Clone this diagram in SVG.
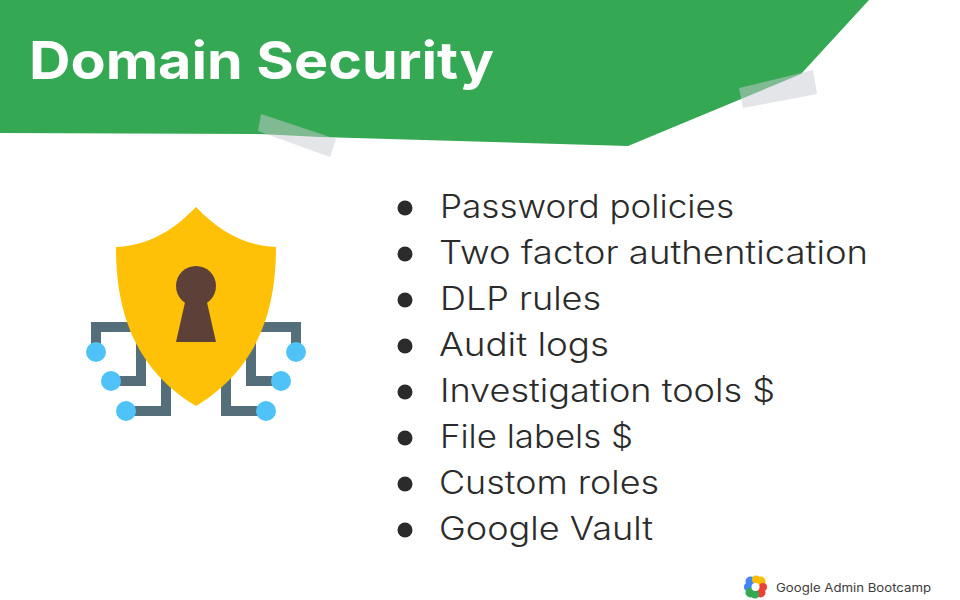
<svg xmlns="http://www.w3.org/2000/svg" width="960" height="600" viewBox="0 0 960 600">
<style>
text{font-family:"Inter","Open Sans","Liberation Sans",sans-serif}
.item{font-size:32px;fill:#2b2b2b;font-weight:300}
.bullet{fill:#2b2b2b}
.tape{fill:#c9ccd3;fill-opacity:.5}
.wire{fill:none;stroke:#546e7a;stroke-width:10}
.dot{fill:#4fc3f7}
</style>
<rect width="960" height="600" fill="#fff"/>
<g id="banner">
<polygon points="0,0 869,0 801,74 628,146 320,137 260,134 0,133" fill="#34a853"/>
<polygon class="tape" points="261,114 336,139 330,157 258,131"/>
<polygon class="tape" points="739,88 813,70 817,94 743,108"/>
<text x="29" y="79" font-size="52" font-weight="700" fill="#fff" textLength="465" lengthAdjust="spacingAndGlyphs">Domain Security</text>
</g>
<g id="shield-icon">
<g id="connectors">
<path class="wire" d="M96,352V327H135"/>
<path class="wire" d="M111,381H141V340"/>
<path class="wire" d="M126,411H166V375"/>
<path class="wire" d="M296,352V327H257"/>
<path class="wire" d="M281,381H251V340"/>
<path class="wire" d="M266,411H226V375"/>
</g>
<circle class="dot" cx="96" cy="352" r="10"/>
<circle class="dot" cx="111" cy="381" r="10"/>
<circle class="dot" cx="126" cy="411" r="10"/>
<circle class="dot" cx="296" cy="352" r="10"/>
<circle class="dot" cx="281" cy="381" r="10"/>
<circle class="dot" cx="266" cy="411" r="10"/>
<path d="M196,207C172,232 146,246 116,247C116,300 128,365 196,406C264,365 276,300 276,247C246,246 220,232 196,207Z" fill="#ffc107"/>
<circle cx="196" cy="286" r="20" fill="#5d4037"/>
<polygon points="186,298 206,298 216,342 176,342" fill="#5d4037"/>
</g>
<g id="list">
<g id="item-1"><circle class="bullet" cx="405" cy="208" r="7.5"/><text class="item" x="440" y="218" textLength="294" lengthAdjust="spacingAndGlyphs">Password policies</text></g>
<g id="item-2"><circle class="bullet" cx="405" cy="254" r="7.5"/><text class="item" x="439" y="264" textLength="429" lengthAdjust="spacingAndGlyphs">Two factor authentication</text></g>
<g id="item-3"><circle class="bullet" cx="405" cy="300" r="7.5"/><text class="item" x="440" y="310" textLength="161" lengthAdjust="spacingAndGlyphs">DLP rules</text></g>
<g id="item-4"><circle class="bullet" cx="405" cy="346" r="7.5"/><text class="item" x="439" y="356" textLength="170" lengthAdjust="spacingAndGlyphs">Audit logs</text></g>
<g id="item-5"><circle class="bullet" cx="405" cy="392" r="7.5"/><text class="item" x="440" y="402" textLength="335" lengthAdjust="spacingAndGlyphs">Investigation tools $</text></g>
<g id="item-6"><circle class="bullet" cx="405" cy="438" r="7.5"/><text class="item" x="440" y="448" textLength="193" lengthAdjust="spacingAndGlyphs">File labels $</text></g>
<g id="item-7"><circle class="bullet" cx="405" cy="484" r="7.5"/><text class="item" x="439" y="494" textLength="220" lengthAdjust="spacingAndGlyphs">Custom roles</text></g>
<g id="item-8"><circle class="bullet" cx="405" cy="530" r="7.5"/><text class="item" x="439" y="540" textLength="214" lengthAdjust="spacingAndGlyphs">Google Vault</text></g>
</g>
<g id="footer">
<circle cx="750.5" cy="581.5" r="5" fill="#4285f4"/><circle cx="748" cy="587" r="4" fill="#4285f4"/>
<circle cx="760.5" cy="581.5" r="5" fill="#fbbc04"/><circle cx="756" cy="579.5" r="4" fill="#fbbc04"/>
<circle cx="760.5" cy="592.5" r="5" fill="#ea4335"/><circle cx="763" cy="587" r="4" fill="#ea4335"/>
<circle cx="750.5" cy="592.5" r="5" fill="#34a853"/><circle cx="755" cy="594.5" r="4" fill="#34a853"/>
<circle cx="755.5" cy="587" r="4" fill="#fff"/>
<text x="776" y="592" font-size="11.5" fill="#3c3c3c" textLength="155" lengthAdjust="spacingAndGlyphs">Google Admin Bootcamp</text>
</g>
</svg>
